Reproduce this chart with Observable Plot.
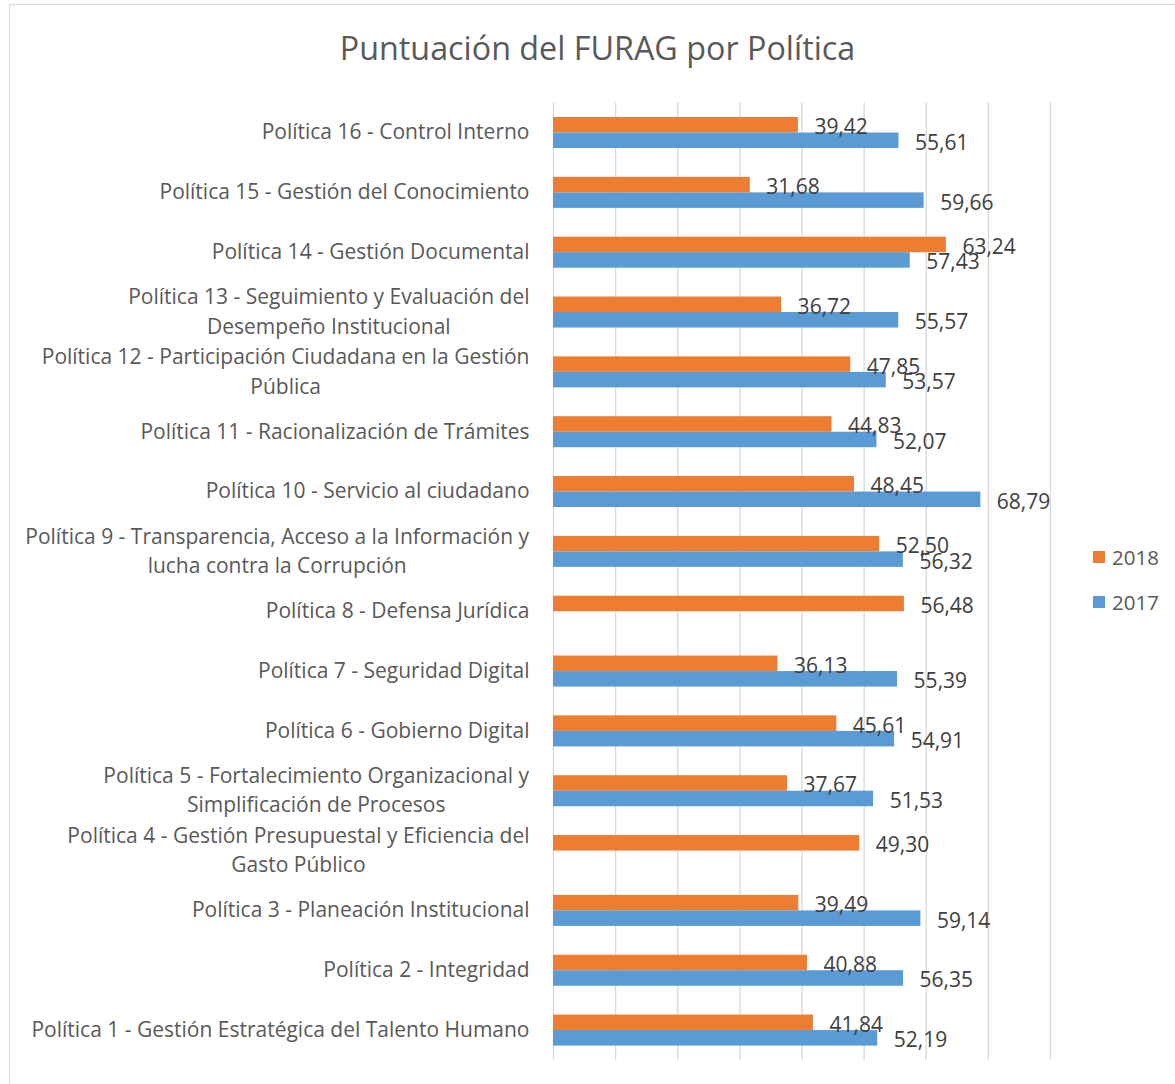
<!DOCTYPE html>
<html>
<head>
<meta charset="utf-8">
<script src="https://cdn.jsdelivr.net/npm/d3@7"></script>
<script src="https://cdn.jsdelivr.net/npm/@observablehq/plot@0.6"></script>
<style>
  html, body { margin: 0; padding: 0; background: #fff; }
  #wrap { position: relative; width: 1175px; height: 1084px; overflow: hidden; font-family: "Open Sans", sans-serif; }
  #frame { position: absolute; left: 9px; top: 4px; width: 1200px; height: 1200px; border: 1px solid #d9d9d9; box-sizing: border-box; }
  #title { position: absolute; left: 0; width: 1195px; top: 25px; text-align: center; font-size: 32.3px; line-height: 44px; color: #595959; white-space: nowrap; }
  #chart { position: absolute; left: 0; top: 0; }
  .leg { position: absolute; left: 1093px; font-size: 20.5px; color: #595959; display: flex; align-items: center; }
  .leg span.sw { display: inline-block; width: 12px; height: 12px; margin-right: 7px; }
</style>
</head>
<body>
<div id="wrap">
  <div id="frame"></div>
  <div id="chart"></div>
  <div id="title">Puntuación del FURAG por Política</div>
  <div class="leg" style="top:543px"><span class="sw" style="background:#ED7D31"></span>2018</div>
  <div class="leg" style="top:588px"><span class="sw" style="background:#5B9BD5"></span>2017</div>
</div>
<script>
const categories = [
  "Política 16 - Control Interno",
  "Política 15 - Gestión del Conocimiento",
  "Política 14 - Gestión Documental",
  "Política 13 - Seguimiento y Evaluación del\nDesempeño Institucional",
  "Política 12 - Participación Ciudadana en la Gestión\nPública",
  "Política 11 - Racionalización de Trámites",
  "Política 10 - Servicio al ciudadano",
  "Política 9 - Transparencia, Acceso a la Información y\nlucha contra la Corrupción",
  "Política 8 - Defensa Jurídica",
  "Política 7 - Seguridad Digital",
  "Política 6 - Gobierno Digital",
  "Política 5 - Fortalecimiento Organizacional y\nSimplificación de Procesos",
  "Política 4 - Gestión Presupuestal y Eficiencia del\nGasto Público",
  "Política 3 - Planeación Institucional",
  "Política 2 - Integridad",
  "Política 1 - Gestión Estratégica del Talento Humano"
];
const values2018 = [39.42, 31.68, 63.24, 36.72, 47.85, 44.83, 48.45, 52.50, 56.48, 36.13, 45.61, 37.67, 49.30, 39.49, 40.88, 41.84];
const values2017 = [55.61, 59.66, 57.43, 55.57, 53.57, 52.07, 68.79, 56.32, null, 55.39, 54.91, 51.53, null, 59.14, 56.35, 52.19];
const seriesNames = ["2018", "2017"];
const seriesColors = ["#ED7D31", "#5B9BD5"];
const gridTicks = [0, 10, 20, 30, 40, 50, 60, 70, 80];

const d2018 = categories.map((c, i) => ({cat: c, v: values2018[i]})).filter(d => d.v != null);
const d2017 = categories.map((c, i) => ({cat: c, v: values2017[i]})).filter(d => d.v != null);
const fmt = v => d3.format(".2f")(v).replace(".", ",");

const W = 1175, H = 1084;
const mTop = 102.6, mBottom = H - 1060, mLeft = 553, mRight = W - 1050;
const band = (H - mTop - mBottom) / categories.length;
const half = band / 2;
const barH = 15.5;
const labelFont = "'Open Sans', sans-serif";

const chart = Plot.plot({
  width: W, height: H,
  marginTop: mTop, marginBottom: mBottom, marginLeft: mLeft, marginRight: mRight,
  style: {background: "transparent", fontFamily: labelFont},
  x: {domain: [0, 80], axis: null},
  y: {domain: categories, padding: 0, round: false, axis: null},
  marks: [
    Plot.ruleX(gridTicks, {stroke: "#d9d9d9", strokeWidth: 1.3}),
    Plot.barX(d2018, {x: "v", y: "cat", fill: seriesColors[0], insetTop: half - barH, insetBottom: half}),
    Plot.barX(d2017, {x: "v", y: "cat", fill: seriesColors[1], insetTop: half, insetBottom: half - barH}),
    Plot.text(d2018, {x: "v", y: "cat", text: d => fmt(d.v), dx: 16, dy: -5.5, textAnchor: "start", fill: "#404040", fontSize: 21}),
    Plot.text(d2017, {x: "v", y: "cat", text: d => fmt(d.v), dx: 16, dy: 10, textAnchor: "start", fill: "#404040", fontSize: 21}),
    Plot.text(categories, {x: () => 0, y: d => d, text: d => d, dx: -24, dy: -3, textAnchor: "middle", lineHeight: 29.5 / 21, fill: "#595959", fontSize: 21, className: "ylab"})
  ]
});
document.getElementById("chart").appendChild(chart);

// right-align each multi-line label block while keeping its lines centred
chart.querySelectorAll(".ylab text").forEach(t => {
  const b = t.getBBox();
  const tr = t.getAttribute("transform") || "";
  t.setAttribute("transform", tr + ` translate(${-(b.x + b.width)},0)`);
});
</script>
</body>
</html>
